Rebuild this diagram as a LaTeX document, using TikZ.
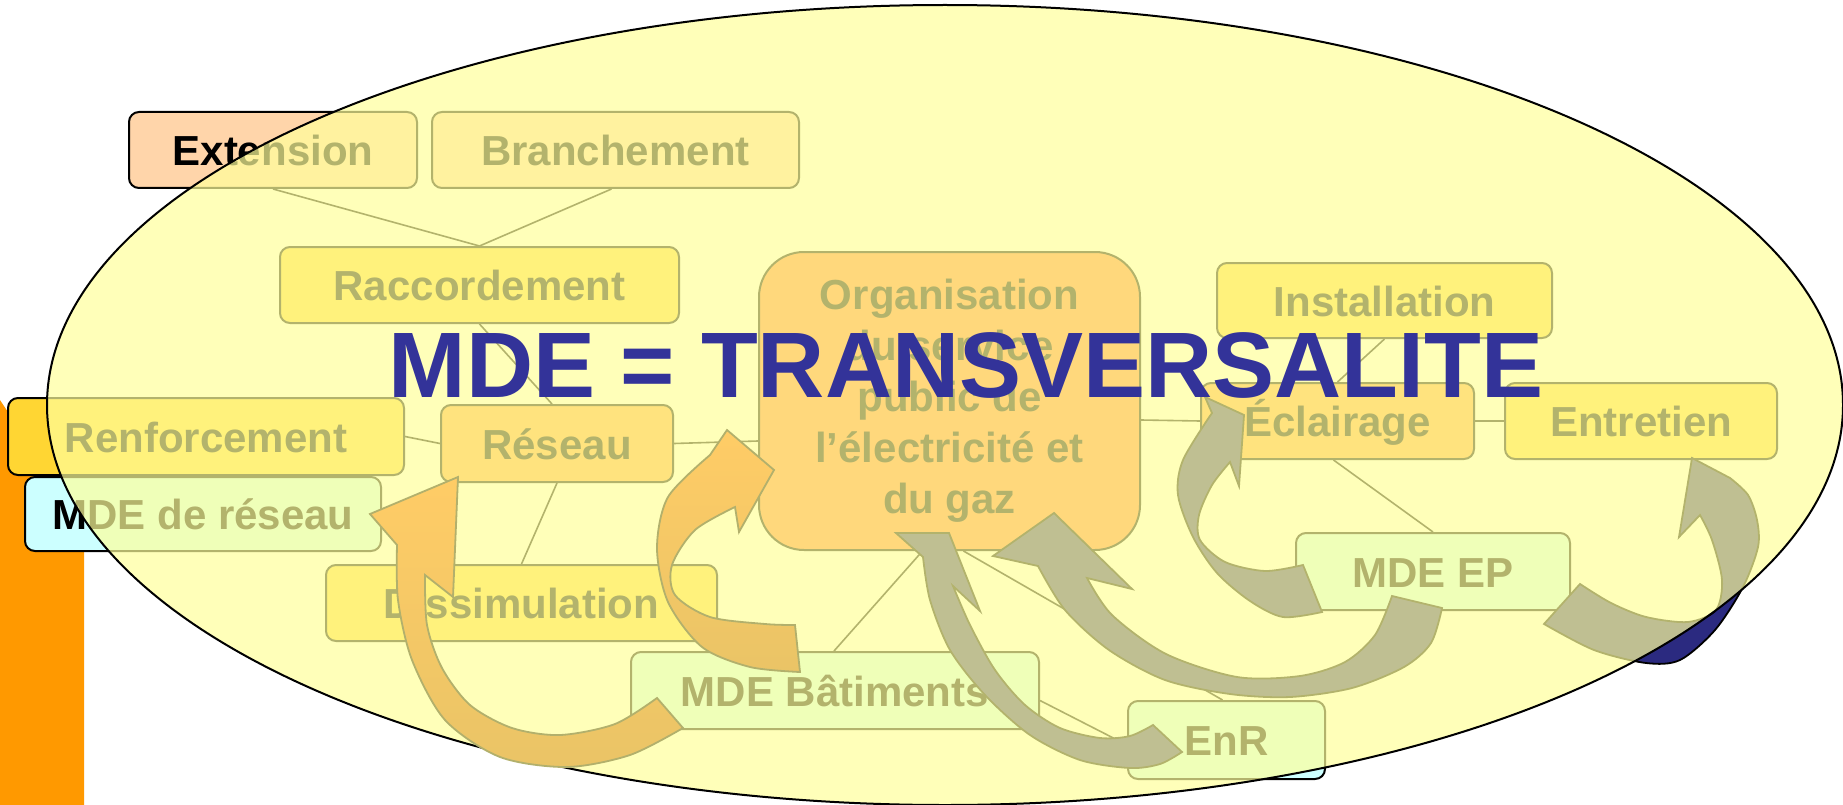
\documentclass[tikz,border=0pt]{standalone}
\usepackage{fontspec}
\setmainfont{Liberation Sans}
\usetikzlibrary{calc}
\definecolor{peach}{HTML}{FFD5AA}
\definecolor{gold}{HTML}{FFD633}
\definecolor{cyanbox}{HTML}{CCFFFF}
\definecolor{lvlone}{HTML}{FFA23A}
\definecolor{orgfill}{HTML}{FF7D34}
\definecolor{navyarrow}{HTML}{2B2A80}
\definecolor{overlaycol}{HTML}{FFFF9B}
\definecolor{olive}{HTML}{B2B06C}
\definecolor{orangeA}{HTML}{FFCC66}
\definecolor{orangeB}{HTML}{EAC466}
\definecolor{titleblue}{HTML}{333399}
\definecolor{sideorange}{HTML}{FF9900}
\begin{document}
\begin{tikzpicture}[x=1pt,y=-1pt,
  boxbase/.style={draw=black,line width=2pt,inner sep=0pt,font=\fontsize{42}{51}\selectfont\bfseries},
  box/.style={boxbase,rounded corners=10pt,text height=31pt,text depth=0pt},
  link/.style={draw=black,line width=1.6pt},
  navyarr/.style={fill=navyarrow,draw=black,line width=1.8pt},
  orarr/.style={top color=orangeA,bottom color=orangeB,draw=olive,line width=1.8pt},
  titletext/.style={font=\fontsize{93}{93}\selectfont\bfseries,text=titleblue,anchor=base,inner sep=0pt}]
\useasboundingbox (0,0) rectangle (1843,805);
\fill[sideorange] (0,400) -- (84,526) -- (84,805) -- (0,805) -- cycle;

% boxes
\node[box,fill=peach,minimum width=288pt,minimum height=76pt] (ext) at (273,150) {Extension};
\node[box,fill=peach,minimum width=367pt,minimum height=76pt] (branch) at (615.5,150) {Branchement};
\node[box,fill=gold,minimum width=399pt,minimum height=76pt] (racc) at (479.5,285) {Raccordement};
\node[box,fill=gold,minimum width=396pt,minimum height=77pt] (renf) at (206,436.5) {Renforcement};
\node[box,fill=cyanbox,minimum width=356pt,minimum height=74pt] (mderes) at (203,514) {MDE de réseau};
\node[box,fill=lvlone,minimum width=232pt,minimum height=77pt] (reseau) at (557,443.5) {Réseau};
\node[box,fill=gold,minimum width=391pt,minimum height=76pt] (diss) at (521.5,603) {Dissimulation};
\node[box,fill=cyanbox,minimum width=408pt,minimum height=77pt] (mdebat) at (835,690.5) {MDE Bâtiments};
\node[boxbase,fill=orgfill,rounded corners=45pt,minimum width=381pt,minimum height=298pt,align=center] (org) at (949.5,401) {Organisation\\du service\\public de\\l’électricité et\\du gaz};
\node[box,fill=gold,minimum width=335pt,minimum height=75pt] (inst) at (1384.5,300.5) {Installation};
\node[box,fill=lvlone,minimum width=273pt,minimum height=76pt] (ecl) at (1337.5,421) {Éclairage};
\node[box,fill=gold,minimum width=272pt,minimum height=76pt] (entr) at (1641,421) {Entretien};
\node[box,fill=cyanbox,minimum width=274pt,minimum height=77pt] (mdeep) at (1433,571.5) {MDE EP};
\node[box,fill=cyanbox,minimum width=197pt,minimum height=78pt] (enr) at (1226.5,740) {EnR};

% connectors
\draw[link] (ext.south) -- (racc.north);
\draw[link] ($(branch.south)+(-4,0)$) -- (racc.north);
\draw[link] (racc.south) -- ($(reseau.north)+(-5,0)$);
\draw[link] (renf.east) -- (reseau.west);
\draw[link] (reseau.south) -- (diss.north);
\draw[link] (reseau.east) -- ($(org.west)+(0,40)$);
\draw[link] ($(org.east)+(0,19)$) -- (ecl.west);
\draw[link] (ecl.north) -- (inst.south);
\draw[link] (ecl.east) -- (entr.west);
\draw[link] ($(ecl.south)+(-4,0)$) -- (mdeep.north);
\draw[link] ($(org.south)+(-27,0)$) -- ($(mdebat.north)+(-1,0)$);
\draw[link] ($(org.south)+(14,0)$) -- ($(enr.north)+(-4,0)$);
\draw[link] ($(mdebat.east)+(0,10)$) -- ($(enr.west)+(0,5)$);

% navy arrows (under the veil)
\filldraw[navyarr] (923,557) -- (896,533) -- (949,533) -- (980,611) -- (953,586) -- plot[smooth] coordinates {(953,586) (970,625) (995,670) (1025,705) (1060,728) (1100,738) (1130,736) (1153,725)} -- (1182,752) -- plot[smooth] coordinates {(1182,752) (1160,764) (1130,768) (1080,760) (1030,735) (985,695) (950,650) (930,600) (923,557)} -- cycle;
\filldraw[navyarr] (1038,566) -- (993,556) -- (1054,513) -- (1132,589) -- (1087,578) -- plot[smooth] coordinates {(1087,578) (1112,615) (1166,654) (1237,677) (1300,676) (1345,662) (1375,635) (1392,596)} -- (1442,608) -- plot[smooth] coordinates {(1442,608) (1431,643) (1404,667) (1352,688) (1290,697) (1230,694) (1165,680) (1109,650) (1065,610) (1038,566)} -- cycle;
\filldraw[navyarr] (1212,413) -- (1205,397) -- (1244,415) -- (1239,486) -- (1230,462) -- plot[smooth] coordinates {(1230,462) (1212,485) (1199,515) (1200,540) (1225,562) (1265,571) (1303,565)} -- (1322,612) -- plot[smooth] coordinates {(1322,612) (1283,617) (1250,601) (1217,573) (1193,537) (1178,495) (1183,460) (1212,413)} -- cycle;
\filldraw[navyarr] (1700,515) -- (1679,537) -- (1692,458) -- (1730,478) -- plot[smooth] coordinates {(1730,478) (1748,495) (1757,520) (1758,547) (1743,587) (1715,630) (1680,660) (1646,663) (1594,650) (1544,624)} -- (1580,584) -- plot[smooth] coordinates {(1580,584) (1611,603) (1646,617) (1688,622) (1716,610) (1722,580) (1712,540) (1700,515)} -- cycle;

% the veil
\fill[overlaycol,fill opacity=0.7] (945,405) ellipse [x radius=898pt,y radius=400pt];
\draw[line width=2pt] (945,405) ellipse [x radius=898pt,y radius=400pt];

% orange arrows
\filldraw[orarr] (683,728) -- plot[smooth] coordinates {(683,728) (630,755) (567,767) (500,757) (445,720) (412,660) (398,600) (397,545)} -- (370,514) -- (458,477) -- (453,597) -- (425,575) -- plot[smooth] coordinates {(425,575) (427,625) (442,668) (470,705) (512,728) (560,735) (615,724) (657,698)} -- cycle;
\filldraw[orarr] (800,672) -- plot[smooth] coordinates {(800,672) (750,667) (702,647) (668,602) (657,548) (668,497) (710,455)} -- (727,430) -- (774,470) -- (739,532) -- (735,507) -- plot[smooth] coordinates {(735,507) (695,530) (672,565) (675,595) (710,617) (765,624) (795,625)} -- cycle;

% title
\node[titletext] (title) at (966,397) {MDE = TRANSVERSALITE};
\end{tikzpicture}
\end{document}
